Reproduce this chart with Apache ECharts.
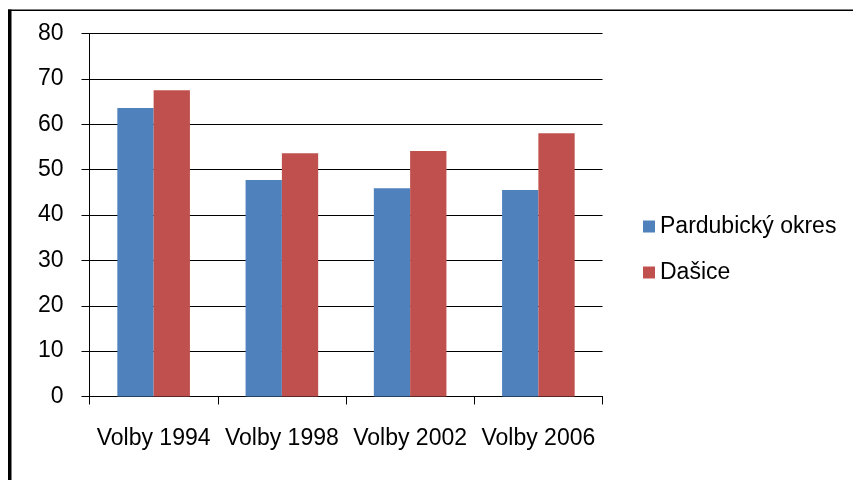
<!DOCTYPE html>
<html>
<head>
<meta charset="utf-8">
<script src="https://cdn.jsdelivr.net/npm/echarts@6/dist/echarts.min.js"></script>
<style>
html,body{margin:0;padding:0;background:#fff;}
#main{width:853px;height:480px;}
</style>
</head>
<body>
<div id="main"></div>
<script>
const categories = ['Volby 1994', 'Volby 1998', 'Volby 2002', 'Volby 2006'];
const seriesNames = ['Pardubický okres', 'Dašice'];
const pardubickyOkres = [63.6, 47.7, 45.9, 45.5];
const dasice = [67.5, 53.6, 54.1, 58.0];
const yTicks = { min: 0, max: 80, interval: 10 };

const chart = echarts.init(document.getElementById('main'), null, { renderer: 'canvas' });
const font = 'Liberation Sans';
chart.setOption({
  backgroundColor: '#ffffff',
  animation: false,
  textStyle: { fontFamily: font },
  grid: { left: 89.5, right: 250.5, top: 33.5, bottom: 83.5, containLabel: false },
  legend: {
    orient: 'vertical',
    left: 638,
    top: 210,
    itemWidth: 12,
    itemHeight: 12,
    itemGap: 23,
    icon: 'rect',
    textStyle: { fontFamily: font, fontSize: 23, color: '#000' },
    data: seriesNames
  },
  xAxis: {
    type: 'category',
    data: categories,
    axisLine: { lineStyle: { color: '#000', width: 1 } },
    axisTick: { show: true, length: 8, lineStyle: { color: '#000' } },
    axisLabel: { fontFamily: font, fontSize: 23, color: '#000', margin: 31, interval: 0 }
  },
  yAxis: {
    type: 'value',
    min: yTicks.min,
    max: yTicks.max,
    interval: yTicks.interval,
    axisLine: { show: true, lineStyle: { color: '#000', width: 1 } },
    axisTick: { show: true, length: 8, lineStyle: { color: '#000' } },
    axisLabel: { fontFamily: font, fontSize: 23, color: '#000', margin: 26 },
    splitLine: { show: true, lineStyle: { color: '#000', width: 1 } }
  },
  series: [
    { name: seriesNames[0], type: 'bar', data: pardubickyOkres, itemStyle: { color: '#4F81BD' }, barGap: '0%', barCategoryGap: '43.4%' },
    { name: seriesNames[1], type: 'bar', data: dasice, itemStyle: { color: '#C0504D' }, barGap: '0%', barCategoryGap: '43.4%' }
  ],
  graphic: [
    { type: 'rect', shape: { x: 8, y: 9.5, width: 845, height: 1.5 }, style: { fill: '#000' }, silent: true },
    { type: 'rect', shape: { x: 8, y: 9.5, width: 3.5, height: 471 }, style: { fill: '#000' }, silent: true }
  ]
});
</script>
</body>
</html>
